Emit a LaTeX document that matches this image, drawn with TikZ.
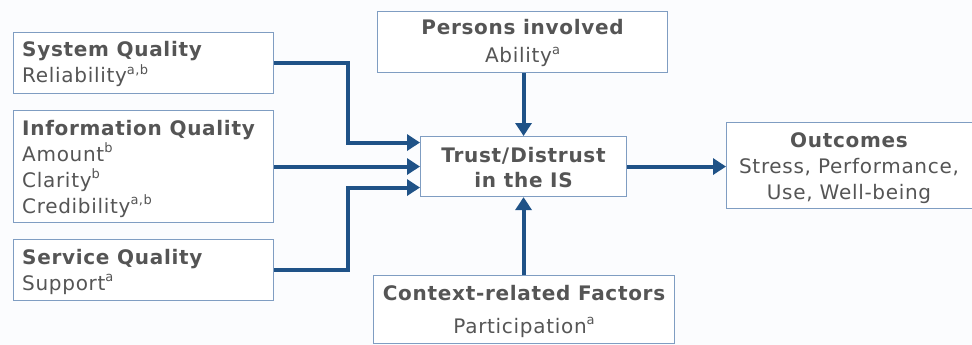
\documentclass[tikz,border=0pt]{standalone}
\usepackage{fontspec}
\setmainfont{DejaVu Sans}[LetterSpace=3.5]
\usetikzlibrary{arrows.meta}
\definecolor{linkblue}{HTML}{1F5287}
\definecolor{boxedge}{HTML}{7F9DC2}
\definecolor{txt}{HTML}{555555}
\definecolor{bg}{HTML}{FBFCFE}
\newcommand\supx[1]{\raisebox{0.42em}{\fontsize{13}{14}\selectfont #1}}
\begin{document}
\begin{tikzpicture}[x=1pt,y=-1pt,
  box/.style={draw=boxedge, line width=1.1pt, fill=white, inner sep=0pt,
              anchor=north west},
  head/.style={font=\fontsize{20}{26}\selectfont\bfseries, text=txt, inner sep=0pt},
  body/.style={font=\fontsize{20}{26}\selectfont, text=txt, inner sep=0pt},
  conn/.style={draw=linkblue, line width=4pt, line join=miter},
  arr/.style={conn, -{Triangle[length=13pt,width=16pt]}}]
  % canvas
  \fill[bg] (0,0) rectangle (972,345);
  \useasboundingbox (0,0) rectangle (972,345);

  % frames
  \node[box, minimum width=260pt, minimum height=61pt]  (sys)   at (13,32)  {};
  \node[box, minimum width=260pt, minimum height=112pt] (info)  at (13,110) {};
  \node[box, minimum width=260pt, minimum height=61pt]  (serv)  at (13,239) {};
  \node[box, minimum width=290pt, minimum height=61pt]  (pers)  at (377,11) {};
  \node[box, minimum width=206pt, minimum height=60pt]  (trust) at (420,136) {};
  \node[box, minimum width=301pt, minimum height=68pt]  (ctx)   at (373,275) {};
  \node[box, minimum width=246pt, minimum height=86pt]  (out)   at (726,122) {};

  % System Quality
  \node[head, anchor=base west] (sysH) at (22,57) {System Quality};
  \node[body, anchor=base west] (sysB) at (22,83) {Reliability\supx{a,b}};
  % Information Quality
  \node[head, anchor=base west] (infH) at (22,135) {Information Quality};
  \node[body, anchor=base west] (infB1) at (22,161) {Amount\supx{b}};
  \node[body, anchor=base west] (infB2) at (22,187) {Clarity\supx{b}};
  \node[body, anchor=base west] (infB3) at (22,213) {Credibility\supx{a,b}};
  % Service Quality
  \node[head, anchor=base west] (srvH) at (22,264) {Service Quality};
  \node[body, anchor=base west] (srvB) at (22,290) {Support\supx{a}};
  % Persons involved
  \node[head, anchor=base] (perH) at (pers.north |- 0,35) {Persons involved};
  \node[body, anchor=base] (perB) at (pers.north |- 0,63) {Ability\supx{a}};
  % Trust / Distrust
  \node[head, anchor=base] (trH1) at (trust.north |- 0,162) {Trust/\hspace{1pt}Distrust};
  \node[head, anchor=base] (trH2) at (trust.north |- 0,187) {in the IS};
  % Context-related factors
  \node[head, anchor=base] (ctxH) at (ctx.north |- 0,300) {Context-related Factors};
  \node[body, anchor=base] (ctxB) at (ctx.north |- 0,333) {Participation\supx{a}};
  % Outcomes
  \node[head, anchor=base] (outH) at (849,147) {Outcomes};
  \node[body, anchor=base] (outB1) at (849,173) {Stress, Performance,};
  \node[body, anchor=base] (outB2) at (849,199) {Use, Well-being};

  % connectors
  \draw[arr] (sys.east) -- ++(74,0) |- ([yshift=24pt]trust.west);
  \draw[arr] (info.east) -- (trust.west);
  \draw[arr] (serv.east) -- ++(74,0) |- ([yshift=-21pt]trust.west);
  \draw[arr] (pers.south -| trust.north) -- (trust.north);
  \draw[arr] (ctx.north -| trust.south) -- (trust.south);
  \draw[arr] (trust.east) -- (trust.east -| out.west);
\end{tikzpicture}
\end{document}
